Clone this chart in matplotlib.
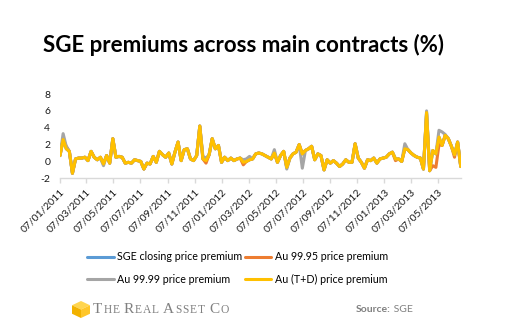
import numpy as np
import pandas as pd
import matplotlib
matplotlib.use("Agg")
import matplotlib.pyplot as plt
import matplotlib.dates as mdates
from matplotlib.patches import Polygon

plt.rcParams["axes.unicode_minus"] = False
plt.rcParams["font.family"] = ["Lato", "DejaVu Sans"]

# weekly premiums (%), Friday closes from 7 Jan 2011
dates = pd.date_range("2011-01-07", periods=130, freq="7D")

au_td = [0.7, 2.6, 1.5, 1.2, -1.4, 0.3, 0.4, 0.4, 0.5, 0.1,
         1.2, 0.5, 0.2, 0.5, -0.3, 0.7, -0.2, 2.7, 0.5, 0.6,
         0.5, -0.2, -0.1, -0.2, 0.2, 0.1, 0.0, -0.9, -0.2, -0.3,
         0.6, -0.1, 1.2, 0.8, 0.5, 1.0, -0.3, 1.1, 2.3, 0.1,
         1.4, 1.5, 0.3, 0.1, 0.7, 4.2, 0.3, 0.1, 0.8, 2.7,
         1.5, 1.9, -0.1, 0.5, 0.1, 0.4, 0.1, 0.3, 0.4, -0.1,
         0.0, 0.2, 0.3, 0.9, 1.0, 0.9, 0.7, 0.5, 0.3, 1.0,
         -0.1, 0.7, 1.2, -0.7, 0.4, 0.9, 1.1, 2.0, 0.9, 1.3,
         1.5, 1.8, 0.2, 0.9, 0.7, -1.0, 0.2, -0.2, 0.1, -0.2,
         -0.6, -0.3, 0.2, -0.1, -0.1, 2.1, 0.4, -0.1, -0.8, 0.2,
         0.1, 0.4, -0.2, 0.3, 0.4, 0.5, 0.9, 1.1, 0.3, 0.3,
         0.0, 1.5, 1.4, 1.0, 0.7, 0.5, 0.4, -0.9, 5.8, -1.1,
         1.3, 0.9, 2.9, 1.9, 3.1, 2.7, 1.8, 0.8, 2.3, -0.6]

au_9999 = [0.7, 3.3, 1.8, 1.2, -1.4, 0.3, 0.4, 0.4, 0.5, 0.1,
           1.2, 0.5, 0.2, 0.4, -0.5, 0.7, -0.2, 2.7, 0.5, 0.6,
           0.5, -0.2, -0.1, -0.2, 0.2, 0.1, 0.0, -0.9, -0.2, -0.3,
           0.6, -0.1, 1.2, 0.8, 0.5, 1.0, -0.3, 1.1, 2.3, 0.1,
           1.4, 1.5, 0.3, 0.1, 0.7, 4.2, 0.6, 0.4, 0.8, 2.7,
           1.5, 1.9, -0.1, 0.5, 0.1, 0.4, 0.1, 0.3, 0.4, 0.2,
           0.3, 0.6, 0.3, 0.9, 1.0, 0.9, 0.7, 0.5, 0.3, 1.4,
           -0.1, 0.7, 1.2, -0.9, 0.4, 0.9, 1.1, 2.0, -0.8, 1.3,
           1.5, 1.8, 0.2, 0.9, 0.7, -1.0, 0.2, -0.2, 0.1, -0.2,
           -0.6, -0.3, 0.2, -0.1, -0.1, 2.1, 0.4, -0.1, -0.8, 0.2,
           0.1, 0.4, -0.2, 0.3, 0.4, 0.5, 0.9, 1.1, 0.3, 0.3,
           0.0, 2.1, 1.4, 1.0, 0.7, 0.5, 0.4, -0.9, 6.0, -1.1,
           1.3, 0.9, 3.7, 3.5, 3.2, 2.7, 1.8, 0.8, 2.3, -0.6]

au_9995 = [0.7, 2.6, 1.8, 1.2, -1.4, 0.3, 0.4, 0.4, 0.5, 0.1,
           1.2, 0.5, 0.2, 0.5, -0.3, 0.7, -0.2, 2.7, 0.5, 0.6,
           0.5, -0.2, -0.1, -0.2, 0.2, 0.1, 0.0, -0.9, -0.2, -0.3,
           0.6, -0.1, 1.2, 0.8, 0.5, 1.0, -0.3, 1.1, 2.3, 0.1,
           1.4, 1.5, 0.3, 0.1, 0.7, 4.2, 0.3, -0.2, 0.8, 2.7,
           1.5, 1.9, -0.1, 0.5, 0.1, 0.4, 0.1, 0.3, 0.4, -0.4,
           0.0, 0.2, 0.3, 0.9, 1.0, 0.9, 0.7, 0.5, 0.3, 1.0,
           -0.1, 0.7, 1.2, -0.7, 0.4, 0.9, 1.1, 2.0, 0.9, 1.3,
           1.5, 1.8, 0.2, 0.9, 0.7, -1.0, 0.2, -0.2, 0.1, -0.2,
           -0.6, -0.3, 0.2, -0.1, -0.1, 2.1, 0.4, -0.1, -0.8, 0.2,
           0.1, 0.4, -0.2, 0.3, 0.4, 0.5, 0.9, 1.1, 0.1, 0.3,
           0.0, 1.5, 1.4, 1.0, 0.7, 0.5, 0.4, -0.9, 5.6, -1.1,
           -0.5, -0.7, 2.0, 1.9, 3.1, 2.7, 1.8, 0.5, 2.3, -0.6]

sge_close = [0.7, 2.6, 1.5, 1.2, -1.4, 0.3, 0.4, 0.4, 0.5, 0.1,
             1.2, 0.5, 0.2, 0.5, -0.3, 0.7, -0.2, 2.7, 0.5, 0.6,
             0.5, -0.2, -0.1, -0.2, 0.2, 0.1, 0.0, -0.9, -0.2, -0.3,
             0.6, -0.1, 1.2, 0.8, 0.5, 1.0, -0.3, 1.1, 2.3, 0.1,
             1.4, 1.5, 0.3, 0.1, 0.7, 4.2, 0.3, 0.1, 0.8, 2.7,
             1.5, 1.9, -0.1, 0.5, 0.1, 0.4, 0.1, 0.3, 0.4, -0.1,
             0.0, 0.2, 0.3, 0.9, 1.0, 0.9, 0.7, 0.5, 0.3, 1.0,
             -0.1, 0.7, 1.2, -0.7, 0.4, 0.9, 1.1, 2.0, 0.9, 1.3,
             1.5, 1.8, 0.2, 0.9, 0.7, -1.0, 0.2, -0.2, 0.1, -0.2,
             -0.6, -0.3, 0.2, -0.1, -0.1, 2.1, 0.4, -0.1, -0.8, 0.2,
             0.1, 0.4, -0.2, 0.3, 0.4, 0.5, 0.9, 1.1, 0.3, 0.3,
             0.0, 1.5, 1.4, 1.0, 0.7, 0.5, 0.4, -0.9, 5.8, -1.1,
             1.3, 0.9, 2.9, 1.9, 3.1, 2.7, 1.8, 0.8, 2.3, -0.6]

labels = ["SGE closing price premium", "Au 99.95 price premium",
          "Au 99.99 price premium", "Au (T+D) price premium"]
colors = ["#5B9BD5", "#ED7D31", "#A5A5A5", "#FFC000"]

fig = plt.figure(figsize=(5.16, 3.36), dpi=100)
ax = fig.add_axes([0.1163, 0.4693, 0.7766, 0.2509])

lines = []
for vals, col, lab in zip([sge_close, au_9995, au_9999, au_td], colors, labels):
    ln, = ax.plot(dates, vals, color=col, lw=2.2, label=lab,
                  solid_joinstyle="round", solid_capstyle="round")
    lines.append(ln)

ax.set_xlim(dates[0], dates[-1])
ax.set_ylim(-2, 8)
ax.set_yticks(np.arange(-2, 9, 2))
ax.xaxis.set_major_locator(mdates.MonthLocator(bymonth=[1, 3, 5, 7, 9, 11], bymonthday=7))
ax.xaxis.set_major_formatter(mdates.DateFormatter("%d/%m/%Y"))

for s in ["top", "right", "left"]:
    ax.spines[s].set_visible(False)
ax.spines["bottom"].set_color("#D9D9D9")
ax.spines["bottom"].set_linewidth(1.0)
ax.tick_params(axis="y", length=0, pad=7, labelsize=7.5, labelcolor="#1a1a1a")
ax.tick_params(axis="x", length=3.5, color="#D9D9D9", width=1.0, pad=3,
               labelsize=7.5, labelcolor="#1a1a1a")
for t in ax.get_xticklabels():
    t.set_rotation(45)
    t.set_ha("right")
    t.set_rotation_mode("anchor")

fig.text(0.471, 0.866, "SGE premiums across main contracts (%)",
         ha="center", va="center", fontsize=16, fontweight="bold", color="black")

# legend: two rows, two columns
order = [lines[0], lines[2], lines[1], lines[3]]
fig.legend(order, [l.get_label() for l in order], ncol=2, frameon=False,
           loc="center left", bbox_to_anchor=(0.1686, 1 - 268 / 336),
           fontsize=7.7, handlelength=2.5, handletextpad=0.3,
           columnspacing=0.25, labelspacing=1.05, borderpad=0, borderaxespad=0)

# company mark
lax = fig.add_axes([72 / 516, 1 - 318 / 336, 18 / 516, 17 / 336])
lax.set_xlim(0, 1)
lax.set_ylim(0, 1)
lax.axis("off")
lax.add_patch(Polygon([(0.5, 1), (1, 0.75), (0.5, 0.5), (0, 0.75)], closed=True, color="#FFD54F", lw=0))
lax.add_patch(Polygon([(0, 0.75), (0.5, 0.5), (0.5, 0), (0, 0.25)], closed=True, color="#F2B200", lw=0))
lax.add_patch(Polygon([(0.5, 0.5), (1, 0.75), (1, 0.25), (0.5, 0)], closed=True, color="#FFC629", lw=0))

grey = "#808080"
prev = fig.text(93 / 516, 1 - 316 / 336, "T", fontsize=11, color=grey,
                family="Liberation Serif", va="bottom")
for word_i, word in enumerate(["THE", "REAL", "ASSET", "CO"]):
    for k, ch in enumerate(word):
        if word_i == 0 and k == 0:
            continue
        gap = 3.0 if k == 0 else 0.7
        size = 11 if k == 0 else 8.3
        prev = fig.add_artist(plt.Annotation(ch, xy=(1, 0), xycoords=prev,
                                             xytext=(gap, 0), textcoords="offset points",
                                             fontsize=size, color=grey,
                                             family="Liberation Serif", va="bottom"))

src = fig.text(356 / 516, 1 - 310 / 336, "Source:", fontsize=7.5, fontweight="bold",
               color=grey, va="center")
fig.add_artist(plt.Annotation(" SGE", xy=(1, 0), xycoords=src, xytext=(0, 0),
                              textcoords="offset points", fontsize=7.5,
                              color=grey, va="bottom"))

fig.savefig("out.png", dpi=100)
